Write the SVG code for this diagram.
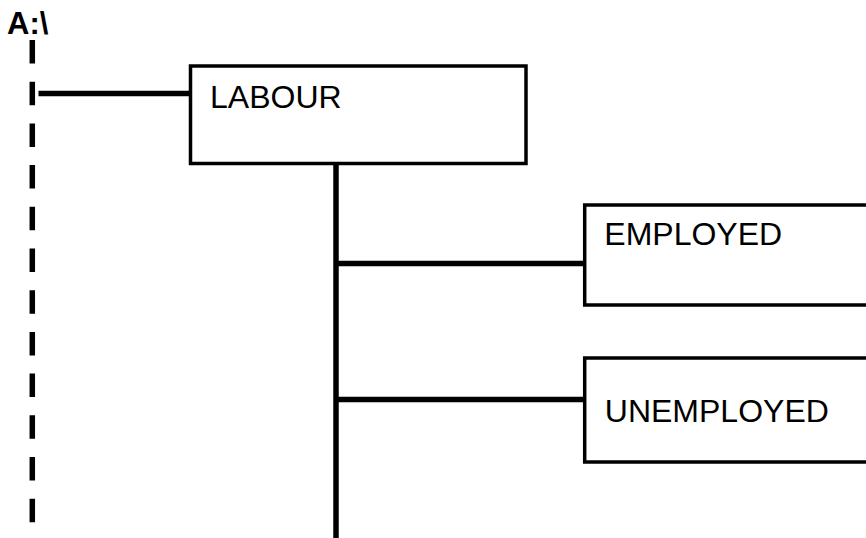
<svg xmlns="http://www.w3.org/2000/svg" width="866" height="538" viewBox="0 0 866 538">
<style>
.box{fill:#fff;stroke:#000;stroke-width:3.5}
.lbl{font-family:"Liberation Sans",Arial,sans-serif;font-size:32px;fill:#000}
.ln{stroke:#000;stroke-width:5.5;fill:none}
</style>
<rect width="866" height="538" fill="#fff"/>
<g id="connectors">
<line class="ln" x1="32.3" y1="40" x2="32.3" y2="526" stroke-width="6" stroke-dasharray="23.5 18.2"/>
<line class="ln" x1="38.5" y1="93.5" x2="190" y2="93.5"/>
<line class="ln" x1="336" y1="163" x2="336" y2="538"/>
<line class="ln" x1="338" y1="263.5" x2="584" y2="263.5"/>
<line class="ln" x1="338" y1="399.5" x2="584" y2="399.5"/>
</g>
<g id="root">
<text x="7" y="34" font-family="Liberation Sans,Arial,sans-serif" font-weight="bold" font-size="31" fill="#000">A:\</text>
</g>
<g id="labour">
<rect class="box" x="190.5" y="66" width="335.5" height="97.5"/>
<text class="lbl" x="210" y="107.5">LABOUR</text>
</g>
<g id="employed">
<rect class="box" x="584.7" y="205" width="300" height="100"/>
<text class="lbl" x="604.3" y="245">EMPLOYED</text>
</g>
<g id="unemployed">
<rect class="box" x="584.7" y="358" width="300" height="104"/>
<text class="lbl" x="604.8" y="421.5">UNEMPLOYED</text>
</g>
</svg>
